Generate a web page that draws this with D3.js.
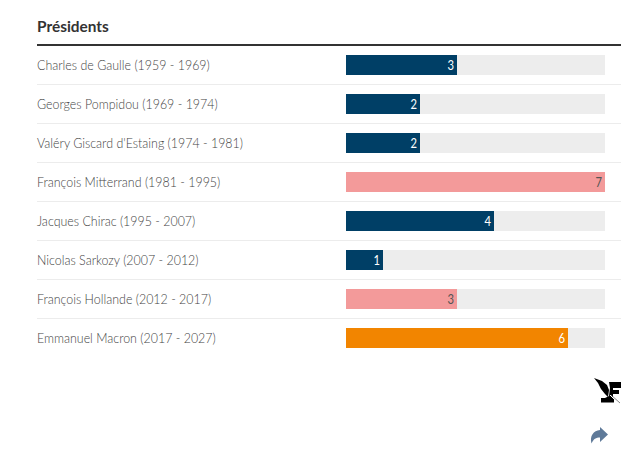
<!DOCTYPE html>
<html>
<head>
<meta charset="utf-8">
<script src="https://cdn.jsdelivr.net/npm/d3@7"></script>
<style>
  html, body { margin: 0; padding: 0; background: #fff; overflow: hidden; }
  text { font-family: Lato, sans-serif; }
</style>
</head>
<body>
<script>
const presidents = [
  "Charles de Gaulle (1959 - 1969)",
  "Georges Pompidou (1969 - 1974)",
  "Valéry Giscard d'Estaing (1974 - 1981)",
  "François Mitterrand (1981 - 1995)",
  "Jacques Chirac (1995 - 2007)",
  "Nicolas Sarkozy (2007 - 2012)",
  "François Hollande (2012 - 2017)",
  "Emmanuel Macron (2017 - 2027)"
];
const values = [3, 2, 2, 7, 4, 1, 3, 6];
const groups = ["droite", "droite", "droite", "gauche", "droite", "droite", "gauche", "centre"];
const maxValue = 7;

const w = 637;
const h = 449;

const colors = { droite: "#003f66", gauche: "#f39a9a", centre: "#f28500" };
const labelColors = { droite: "#fff", gauche: "#555", centre: "#fff" };

// the original font is narrower than Lato, squeeze the row labels
const squeeze = 0.92;

const svg = d3.select("body")
  .append("svg")
  .attr("width", w)
  .attr("height", h)
  .style("display", "block");

const xScale = d3.scaleLinear()
  .domain([0, maxValue])
  .range([346, 605]);

// one band per row, row height 39
const yScale = d3.scaleBand()
  .domain(presidents)
  .range([46, 46 + 39 * presidents.length]);

svg.append("text")
  .attr("x", 37)
  .attr("y", 32)
  .attr("font-size", 15.4)
  .attr("font-weight", 700)
  .attr("fill", "#333")
  .text("Présidents");

svg.append("rect")
  .attr("x", 37)
  .attr("y", 44)
  .attr("width", 584)
  .attr("height", 2)
  .attr("fill", "#333");

const rows = svg.selectAll("g.row")
  .data(presidents)
  .enter()
  .append("g")
  .attr("class", "row")
  .attr("transform", d => `translate(0, ${yScale(d)})`);

// separators, none below the last row
rows.filter((d, i) => i < presidents.length - 1)
  .append("rect")
  .attr("x", 37)
  .attr("y", 38)
  .attr("width", 584)
  .attr("height", 1)
  .attr("fill", "#ececec");

rows.append("text")
  .attr("transform", `translate(37, 24) scale(${squeeze}, 1)`)
  .attr("font-size", 13.5)
  .attr("font-weight", 300)
  .attr("fill", "#444")
  .text(d => d);

rows.append("rect")
  .attr("x", xScale(0))
  .attr("y", 9)
  .attr("width", xScale(maxValue) - xScale(0))
  .attr("height", 20)
  .attr("fill", "#ededed");

rows.append("rect")
  .attr("x", xScale(0))
  .attr("y", 9)
  .attr("width", (d, i) => xScale(values[i]) - xScale(0))
  .attr("height", 20)
  .attr("fill", (d, i) => colors[groups[i]]);

rows.append("text")
  .attr("transform", (d, i) => `translate(${xScale(values[i]) - 3}, 24) scale(0.9, 1)`)
  .attr("text-anchor", "end")
  .attr("font-size", 12.5)
  .attr("fill", (d, i) => labelColors[groups[i]])
  .text((d, i) => values[i]);

// logo
const logo = svg.append("g").attr("transform", "translate(593, 377)");
logo.append("path")
  .attr("fill", "#000")
  .attr("d", "M1 1 L9 4 L14 8 L16 13 L15 20 L12 17 L8 12 L5 6 Z");
logo.append("path")
  .attr("fill", "#000")
  .attr("d", "M16 5 L28 5 L28 11 L20 11 L20 13 L26 13 L26 17 L20 17 L20 21 L21 21 L21 25.5 L8 25.5 L8 21 L12 21 L16 19 L17 11 Z");
logo.append("path")
  .attr("stroke", "#fff")
  .attr("stroke-width", 1)
  .attr("fill", "none")
  .attr("d", "M17 18 L22 23");
logo.append("path")
  .attr("stroke", "#666")
  .attr("stroke-width", 0.8)
  .attr("fill", "none")
  .attr("d", "M18 18 L27 26");

// share arrow
svg.append("path")
  .attr("fill", "#5f7a99")
  .attr("transform", "translate(590, 427)")
  .attr("d", "M10 0 L18 7.5 L10 15 L10 10.5 C6 10.5 3.5 12 1.5 16.5 C-0.5 9 3.5 3.5 10 3 Z");
</script>
</body>
</html>
